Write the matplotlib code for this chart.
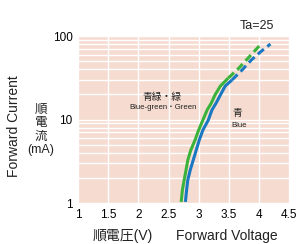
import matplotlib
matplotlib.use("Agg")
import matplotlib.pyplot as plt
import numpy as np

plt.rcParams["font.family"] = ["Liberation Sans", "Noto Sans CJK JP", "DejaVu Sans"]

# forward voltage (V) vs forward current (mA)
green_v = [2.71, 2.73, 2.76, 2.79, 2.82, 2.87, 2.94, 3.00, 3.07, 3.14, 3.21, 3.27, 3.36, 3.49]
green_i = [1.03, 1.43, 1.89, 2.48, 3.27, 4.31, 5.68, 7.49, 9.86, 13.0, 15.8, 19.7, 25.2, 31.4]
green_dash_v = [3.49, 3.65, 3.80, 3.94, 4.05]
green_dash_i = [31.4, 40.2, 52.7, 67.9, 82.5]

blue_v = [2.78, 2.80, 2.82, 2.86, 2.91, 2.96, 3.01, 3.07, 3.16, 3.22, 3.29, 3.36, 3.44, 3.55]
blue_i = [1.03, 1.43, 1.89, 2.48, 3.27, 4.31, 5.68, 7.49, 9.86, 13.0, 15.8, 19.7, 25.2, 29.7]
blue_dash_v = [3.55, 3.72, 3.87, 4.04, 4.19]
blue_dash_i = [29.7, 39.3, 51.5, 66.1, 80.3]

xticks = [1, 1.5, 2, 2.5, 3, 3.5, 4, 4.5]
xticklabels = ["1", "1.5", "2", "2.5", "3", "3.5", "4", "4.5"]
yticks = [1, 10, 100]
yticklabels = ["1", "10", "100"]

green = "#3bb33b"
blue = "#1a78c2"
bg = "#f6dcd0"

fig = plt.figure(figsize=(2.99, 2.44), dpi=100)
ax = fig.add_axes([0.261, 0.168, 0.706, 0.684])
ax.set_facecolor(bg)
ax.set_yscale("log")
ax.set_xlim(1, 4.5)
ax.set_ylim(1, 100)

# white grid, minor log lines included
for x in xticks:
    ax.axvline(x, color="white", lw=1.0, zorder=1)
for dec in [1, 10]:
    for k in range(1, 10):
        ax.axhline(dec * k, color="white", lw=1.0, zorder=1)
ax.axhline(100, color="white", lw=1.0, zorder=1)

ax.plot(green_v, green_i, color=green, lw=2.2, zorder=3, solid_capstyle="butt")
ax.plot(green_dash_v, green_dash_i, color=green, lw=2.2, ls=(0, (2.6, 1.4)), zorder=3)
ax.plot(blue_v, blue_i, color=blue, lw=2.2, zorder=3, solid_capstyle="butt")
ax.plot(blue_dash_v, blue_dash_i, color=blue, lw=2.2, ls=(0, (2.6, 1.4)), zorder=3)

ax.text(2.39, 18.6, "青緑・緑", fontsize=7, ha="center", va="center", color="#222222")
ax.text(2.41, 13.9, "Blue-green・Green", fontsize=5.6, ha="center", va="center", color="#222222")
ax.text(3.64, 12.0, "青", fontsize=7, ha="center", va="center", color="#222222")
ax.text(3.67, 8.6, "Blue", fontsize=5.6, ha="center", va="center", color="#222222")

ax.set_xticks(xticks)
ax.set_xticklabels(xticklabels, fontsize=8.5)
ax.set_yticks(yticks)
ax.set_yticklabels(yticklabels, fontsize=8.5)
ax.yaxis.set_minor_locator(matplotlib.ticker.NullLocator())
ax.tick_params(length=0, pad=4)
for s in ax.spines.values():
    s.set_visible(False)

fig.text(0.047, 0.484, "Forward Current", rotation=90, fontsize=10, ha="center", va="center", color="#222222")
fig.text(0.137, 0.467, "順\n電\n流\n(mA)", fontsize=9, ha="center", va="center",
         linespacing=1.15, color="#222222")
fig.text(0.410, 0.033, "順電圧(V)", fontsize=10, ha="center", va="center", color="#222222")
fig.text(0.760, 0.033, "Forward Voltage", fontsize=10, ha="center", va="center", color="#222222")
fig.text(0.858, 0.893, "Ta=25", fontsize=9, ha="center", va="center", color="#222222")

fig.savefig("out.png", dpi=100)
